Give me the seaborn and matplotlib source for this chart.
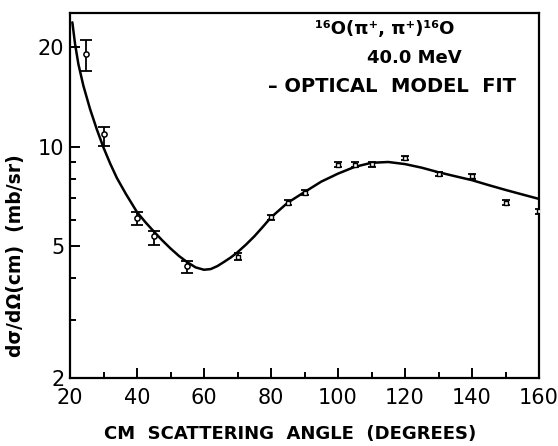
import numpy as np
import pandas as pd
import seaborn as sns
import matplotlib
matplotlib.use("Agg")
import matplotlib.pyplot as plt
from matplotlib.ticker import FixedLocator, NullFormatter, FixedFormatter

# ---- data ----
# circles with error bars (forward angles)
ang_a = [24.7, 30, 40, 45, 55]
val_a = [19.1, 10.9, 6.10, 5.39, 4.35]
lo_a = [16.95, 10.08, 5.81, 5.06, 4.15]
hi_a = [21.0, 11.45, 6.37, 5.58, 4.53]

# small square points with short error bars
ang_b = [70, 80, 85, 90, 100, 105, 110, 120, 130, 140, 150, 160]
val_b = [4.66, 6.12, 6.78, 7.26, 8.83, 8.83, 8.85, 9.25, 8.28, 8.14, 6.77, 6.38]
err_b = [0.10, 0.12, 0.12, 0.13, 0.14, 0.14, 0.14, 0.15, 0.14, 0.14, 0.12, 0.13]

# optical model fit curve
fit_ang = [20.7, 21.5, 22.5, 24, 26, 28, 30, 32, 34, 36.7, 40, 42.5, 45, 47.5,
           50, 52.5, 55, 57.5, 60, 62, 64, 66, 68, 70, 72.5, 75, 77.5, 80, 85,
           90, 95, 100, 105, 110, 115, 120, 125, 130, 135, 140, 145, 150, 155, 160]
fit_val = [23.8, 20.5, 17.8, 15.3, 13.0, 11.3, 9.95, 8.9, 8.05, 7.2, 6.35, 5.92,
           5.55, 5.22, 4.93, 4.68, 4.48, 4.32, 4.25, 4.27, 4.36, 4.49, 4.63, 4.80,
           5.06, 5.36, 5.72, 6.12, 6.78, 7.30, 7.85, 8.30, 8.70, 8.95, 9.0, 8.87,
           8.65, 8.38, 8.15, 7.93, 7.66, 7.41, 7.18, 6.96]

x_ticks = [20, 40, 60, 80, 100, 120, 140, 160]
x_minor = [30, 50, 70, 90, 110, 130, 150]
y_ticks = [2, 5, 10, 20]
y_minor = [3, 4, 6, 7, 8, 9]
x_label = "CM  SCATTERING  ANGLE  (DEGREES)"
y_label = "dσ/dΩ(cm)  (mb/sr)"
ann_lines = ["¹⁶O(π⁺, π⁺)¹⁶O", "40.0 MeV", "– OPTICAL  MODEL  FIT"]

# ---- figure ----
sns.set_theme(style="white")
plt.rcParams['font.family'] = ['DejaVu Sans']
plt.rcParams['text.color'] = 'black'
plt.rcParams['axes.labelcolor'] = 'black'

fig = plt.figure(figsize=(5.58, 4.46), dpi=100)
ax = fig.add_axes([70 / 558, 1 - 378 / 446, 469 / 558, 365 / 446])

fit_df = pd.DataFrame({"angle": fit_ang, "xs": fit_val})
sns.lineplot(data=fit_df, x="angle", y="xs", ax=ax, color="black", lw=1.8,
             sort=False, estimator=None)

# circles with error bars
va = np.array(val_a)
yerr_a = np.vstack([va - np.array(lo_a), np.array(hi_a) - va])
ax.errorbar(ang_a, val_a, yerr=yerr_a, fmt="none", ecolor="black",
            elinewidth=1.3, capsize=4, capthick=1.3, zorder=3)
sns.scatterplot(x=ang_a, y=val_a, ax=ax, marker="o", s=14,
                facecolor="white", edgecolor="black", linewidth=1.1, zorder=4)

# small squares
ax.errorbar(ang_b, val_b, yerr=err_b, fmt="none", ecolor="black",
            elinewidth=1.3, capsize=3, capthick=1.3, zorder=3)
sns.scatterplot(x=ang_b, y=val_b, ax=ax, marker="s", s=10,
                facecolor="white", edgecolor="black", linewidth=1.0, zorder=4)

ax.set_yscale("log")
ax.set_xlim(20, 160)
ax.set_ylim(2, 25.4)

ax.xaxis.set_major_locator(FixedLocator(x_ticks))
ax.xaxis.set_minor_locator(FixedLocator(x_minor))
ax.set_xticklabels([str(t) for t in x_ticks])
ax.yaxis.set_major_locator(FixedLocator(y_ticks))
ax.yaxis.set_major_formatter(FixedFormatter([str(t) for t in y_ticks]))
ax.yaxis.set_minor_locator(FixedLocator(y_minor))
ax.yaxis.set_minor_formatter(NullFormatter())

ax.tick_params(which="both", direction="in", top=False, right=False,
               left=True, bottom=True, colors="black", labelsize=15, width=1.4)
ax.tick_params(which="major", length=7)
ax.tick_params(which="minor", length=4)
ax.tick_params(axis="x", which="major", pad=7)
ax.tick_params(axis="y", which="major", pad=4)

for s in ax.spines.values():
    s.set_color("black")
    s.set_linewidth(1.6)

ax.set_xlabel(x_label, fontsize=13, fontweight="bold")
ax.set_ylabel(y_label, fontsize=13.5, fontweight="bold")
ax.xaxis.set_label_coords(0.47, -0.128)
ax.yaxis.set_label_coords(-0.095, 0.335)

ax.text(0.67, 0.955, ann_lines[0], transform=ax.transAxes, ha="center",
        va="center", fontsize=13, fontweight="bold")
ax.text(0.735, 0.878, ann_lines[1], transform=ax.transAxes, ha="center",
        va="center", fontsize=13, fontweight="bold")
ax.text(0.686, 0.80, ann_lines[2], transform=ax.transAxes, ha="center",
        va="center", fontsize=14, fontweight="bold")

fig.savefig("out.png", dpi=100)
